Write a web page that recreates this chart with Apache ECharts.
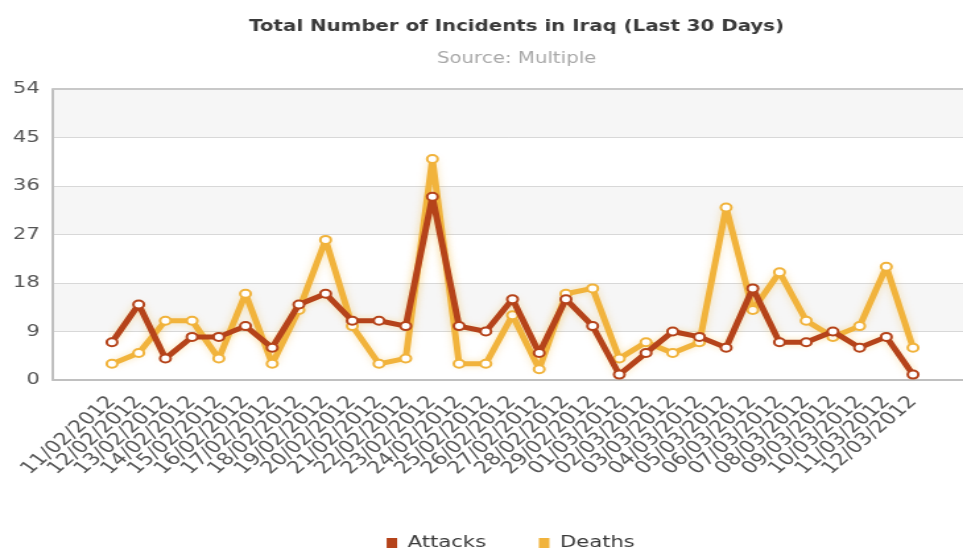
<!DOCTYPE html>
<html>
<head>
<meta charset="utf-8">
<script src="https://cdn.jsdelivr.net/npm/echarts@6/dist/echarts.min.js"></script>
<style>
  html, body { margin: 0; padding: 0; background: #fff; overflow: hidden; }
  #wrap { width: 963px; height: 555px; overflow: hidden; }
  /* the chart is laid out narrow and widened, which gives the broad lettering */
  #chart { width: 730px; height: 555px; transform: scaleX(1.3192); transform-origin: 0 0; }
</style>
</head>
<body>
<div id="wrap"><div id="chart"></div></div>
<script>
// Daily incident counts, 11 Feb – 12 Mar 2012
const dates = [
  '11/02/2012','12/02/2012','13/02/2012','14/02/2012','15/02/2012','16/02/2012',
  '17/02/2012','18/02/2012','19/02/2012','20/02/2012','21/02/2012','22/02/2012',
  '23/02/2012','24/02/2012','25/02/2012','26/02/2012','27/02/2012','28/02/2012',
  '29/02/2012','01/03/2012','02/03/2012','03/03/2012','04/03/2012','05/03/2012',
  '06/03/2012','07/03/2012','08/03/2012','09/03/2012','10/03/2012','11/03/2012',
  '12/03/2012'
];
const attacks = [7, 14, 4, 8, 8, 10, 6, 14, 16, 11, 11, 10, 34, 10, 9, 15, 5, 15, 10, 1, 5, 9, 8, 6, 17, 7, 7, 9, 6, 8, 1];
const deaths  = [3, 5, 11, 11, 4, 16, 3, 13, 26, 10, 3, 4, 41, 3, 3, 12, 2, 16, 17, 4, 7, 5, 7, 32, 13, 20, 11, 8, 10, 21, 6];
const yTicks = { min: 0, max: 54, step: 9 };

const attackColor = '#B5431A';
const deathColor = '#F1B33C';
const font = 'DejaVu Sans, Verdana, sans-serif';

// horizontal widening applied by CSS; page x positions are divided by it
const SX = 963 / 730;
const px = v => v / SX;

const chart = echarts.init(document.getElementById('chart'));

function lineSeries(name, values, color) {
  return {
    name: name,
    type: 'line',
    xAxisIndex: 1,
    yAxisIndex: 1,
    data: values,
    symbol: 'circle',
    symbolSize: 8,
    itemStyle: { color: '#fff', borderColor: color, borderWidth: 2 },
    lineStyle: { color: color, width: 5, shadowColor: 'rgba(245,190,70,0.4)', shadowBlur: 6 },
    emphasis: { disabled: true },
    z: name === 'Attacks' ? 3 : 2
  };
}

chart.setOption({
  animation: false,
  title: {
    text: 'Total Number of Incidents in Iraq (Last 30 Days)',
    subtext: 'Source: Multiple',
    left: px(510), textAlign: 'center', top: 15,
    itemGap: 17,
    textStyle: { fontFamily: font, fontSize: 15, fontWeight: 'bold', color: '#3a3a3a' },
    subtextStyle: { fontFamily: font, fontSize: 15, color: '#a8a8a8' }
  },
  legend: {
    top: 530,
    left: px(380),
    icon: 'rect',
    itemWidth: 8,
    itemHeight: 10,
    itemGap: 40,
    textStyle: { fontFamily: font, fontSize: 16, color: '#3a3a3a', padding: [0, 0, 0, 3] },
    data: [
      { name: 'Attacks', itemStyle: { color: attackColor, borderWidth: 0 } },
      { name: 'Deaths', itemStyle: { color: deathColor, borderWidth: 0 } }
    ]
  },
  grid: [
    { left: px(53), right: -2, top: 89, bottom: 175 },
    { left: px(112), right: px(50), top: 89, bottom: 175 }
  ],
  xAxis: [
    {
      gridIndex: 0, type: 'value', min: 0, max: 1,
      axisLine: { show: true, lineStyle: { color: '#c0c0c0', width: 2 } },
      axisTick: { show: false }, axisLabel: { show: false }, splitLine: { show: false }
    },
    {
      gridIndex: 1, type: 'category', data: dates, boundaryGap: false,
      axisLine: { show: false }, axisTick: { show: false },
      axisLabel: {
        interval: 0, rotate: 48, margin: 19,
        fontFamily: font, fontSize: 17, color: '#555'
      },
      splitLine: { show: false }
    }
  ],
  yAxis: [
    {
      gridIndex: 0, type: 'value', min: yTicks.min, max: yTicks.max, interval: yTicks.step,
      axisLine: { show: true, lineStyle: { color: '#c0c0c0', width: 2 } },
      axisTick: { show: false },
      axisLabel: { fontFamily: font, fontSize: 16, color: '#555', margin: 10 },
      splitLine: { show: true, lineStyle: { color: '#d8d8d8', width: 1 } },
      splitArea: { show: true, areaStyle: { color: ['#ffffff', '#f6f6f6'] } }
    },
    {
      gridIndex: 1, type: 'value', min: yTicks.min, max: yTicks.max, interval: yTicks.step,
      show: false, splitLine: { show: false }
    }
  ],
  graphic: [
    {
      type: 'line', silent: true, z: 1,
      shape: { x1: px(53), y1: 89, x2: 730, y2: 89 },
      style: { stroke: '#c8c8c8', lineWidth: 2 }
    }
  ],
  series: [
    lineSeries('Deaths', deaths, deathColor),
    lineSeries('Attacks', attacks, attackColor)
  ]
});
</script>
</body>
</html>
